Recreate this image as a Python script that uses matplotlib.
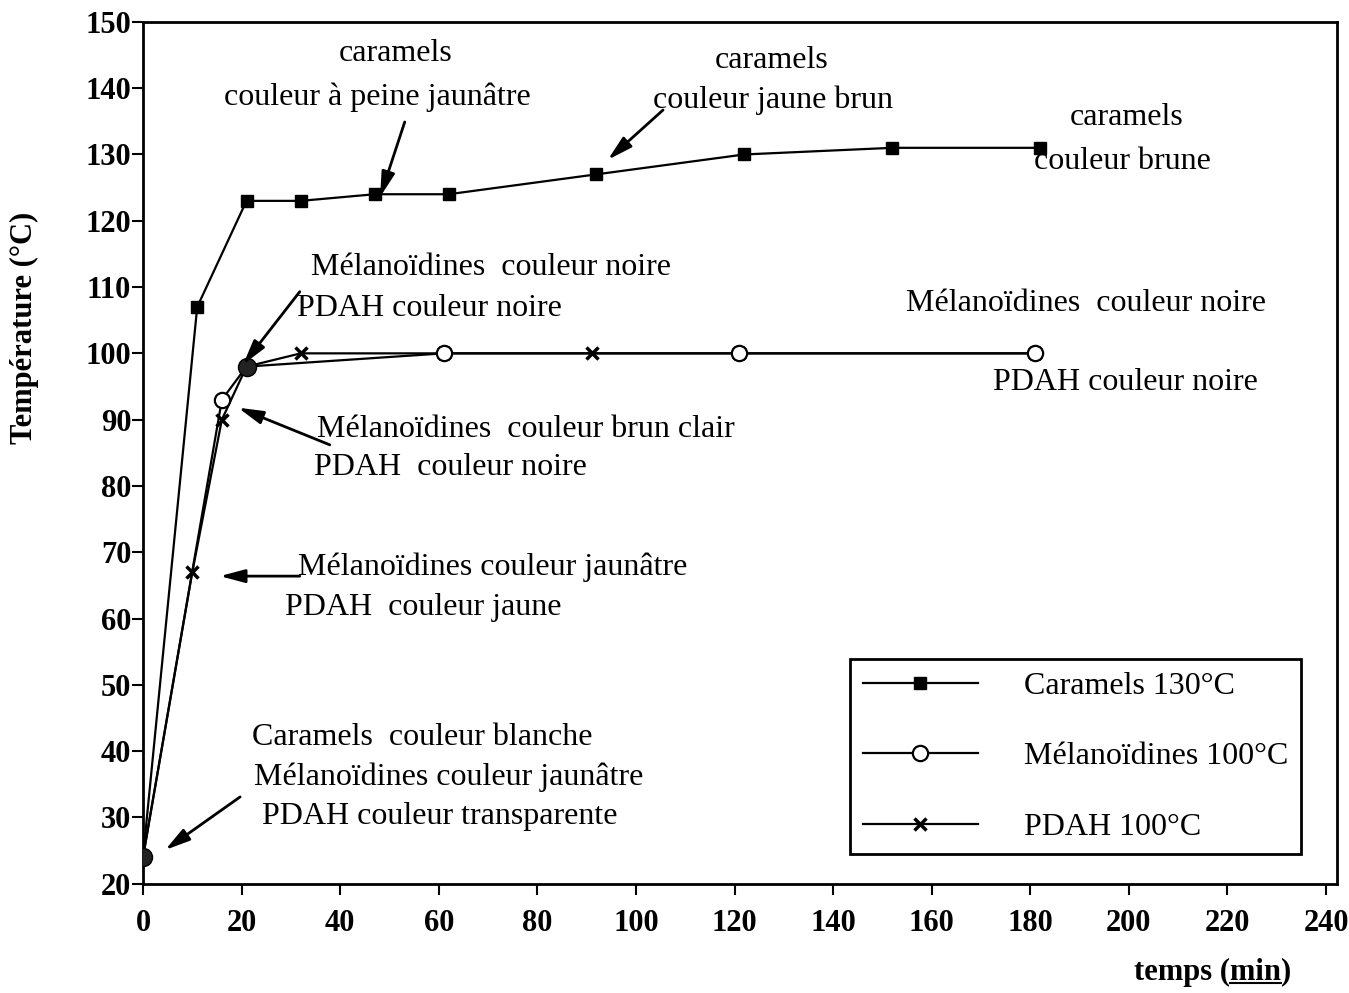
import matplotlib
matplotlib.use("Agg")
import matplotlib.pyplot as plt
import numpy as np

plt.rcParams['font.family'] = ['Liberation Serif', 'DejaVu Serif']

# ---- data ----
car_t = [0, 11, 21, 32, 47, 62, 92, 122, 152, 182]
car_T = [24, 107, 123, 123, 124, 124, 127, 130, 131, 131]

mel_t = [0, 16, 21, 61, 121, 181]
mel_T = [24, 93, 98, 100, 100, 100]

pdah_t = [0, 10, 16, 21, 32, 61, 91, 121, 181]
pdah_T = [24, 67, 90, 98, 100, 100, 100, 100, 100]

shared_idx = [0, 2]  # Mélanoïdines points overlapped by other markers (drawn dark)

xticks = list(range(0, 241, 20))
yticks = list(range(20, 151, 10))

series_labels = ["Caramels 130°C", "Mélanoïdines 100°C", "PDAH 100°C"]

# annotations: (text lines, text positions, arrow start, arrow end)
notes = [
    (["caramels", "couleur à peine jaunâtre"], [(51.2, 145.2), (47.5, 138.7)], (53.1, 134.9), (48.1, 123.6)),
    (["caramels", "couleur jaune brun"], [(127.6, 144.2), (127.8, 138.2)], (105.5, 136.7), (94.3, 129.2)),
    (["caramels", "couleur brune"], [(199.6, 135.5), (198.8, 129.0)], None, None),
    (["Mélanoïdines  couleur noire", "PDAH couleur noire"], [(70.6, 112.9), (58.2, 106.7)], (31.8, 109.3), (20.3, 98.3)),
    (["Mélanoïdines  couleur noire", "PDAH couleur noire"], [(191.3, 107.5), (199.4, 95.6)], None, None),
    (["Mélanoïdines  couleur brun clair", "PDAH  couleur noire"], [(77.7, 88.5), (62.3, 82.8)], (37.9, 86.2), (19.3, 91.8)),
    (["Mélanoïdines couleur jaunâtre", "PDAH  couleur jaune"], [(71.0, 67.8), (56.8, 61.7)], (31.8, 66.4), (15.6, 66.4)),
    (["Caramels  couleur blanche", "Mélanoïdines couleur jaunâtre", "PDAH couleur transparente"],
     [(56.6, 42.0), (62.0, 36.1), (60.3, 30.1)], (19.7, 33.1), (4.5, 25.1)),
]

fig = plt.figure(figsize=(13.49, 9.93), dpi=100)
ax = fig.add_axes([0.106, 0.110, 0.885, 0.868])

ax.plot(car_t, car_T, color='black', lw=1.6, marker='s', ms=8, mfc='black', mec='black',
        label=series_labels[0], zorder=3)
ax.plot(mel_t, mel_T, color='black', lw=1.6, marker='o', ms=11, mfc='white', mec='black', mew=1.6,
        label=series_labels[1], zorder=4)
ax.plot(pdah_t, pdah_T, color='black', lw=1.6, marker='x', ms=8, mew=2.5, mec='black',
        label=series_labels[2], zorder=3)
ax.plot([mel_t[i] for i in shared_idx], [mel_T[i] for i in shared_idx], linestyle='none',
        marker='o', ms=13, mfc='#222222', mec='black', zorder=5)

ax.set_xlim(0, 242.2)
ax.set_ylim(20, 150)
ax.set_xticks(xticks)
ax.set_yticks(yticks)
ax.tick_params(axis='both', direction='out', length=8, width=1.5, labelsize=22, top=False, right=False)
ax.tick_params(axis='x', pad=10)
ax.tick_params(axis='y', pad=0.5)
for lab in ax.get_xticklabels() + ax.get_yticklabels():
    lab.set_fontweight('bold')
for s in ax.spines.values():
    s.set_linewidth(2)

ax.set_ylabel("Température (°C)", fontsize=22, fontweight='bold')
ax.yaxis.set_label_coords(-0.087, 0.645)

for lines, poss, a0, a1 in notes:
    for txt, (x, y) in zip(lines, poss):
        ax.text(x, y, txt, fontsize=23, ha='center', va='center', zorder=6)
    if a0 is not None:
        ax.annotate("", xy=a1, xytext=a0,
                    arrowprops=dict(arrowstyle='-|>,head_length=1.5,head_width=0.4',
                                    color='black', lw=2, shrinkA=0, shrinkB=0), zorder=6)

leg = ax.legend(loc='lower right', bbox_to_anchor=(0.970, 0.034), borderaxespad=0,
                fontsize=23, handlelength=3.6, handletextpad=1.45, labelspacing=1.28,
                borderpad=0.4, fancybox=False, framealpha=1, edgecolor='black')
leg.get_frame().set_linewidth(2)

# x-axis label with underlined "min"
fig.canvas.draw()
r = fig.canvas.get_renderer()
t1 = fig.text(1213 / 1349, 1 - 972 / 993, "temps (min)", fontsize=22, fontweight='bold',
              ha='center', va='center')
bb = t1.get_window_extent(r)
tmp = fig.text(0, 0, "temps (", fontsize=22, fontweight='bold')
w1 = tmp.get_window_extent(r).width
tmp.set_text("min")
w2 = tmp.get_window_extent(r).width
tmp.remove()
x0 = bb.x0 + w1
yline = bb.y0 + 4
fig.add_artist(plt.Line2D([x0 / fig.bbox.width, (x0 + w2) / fig.bbox.width],
                          [yline / fig.bbox.height] * 2, color='black', lw=1.5))

fig.savefig("out.png", dpi=100)
